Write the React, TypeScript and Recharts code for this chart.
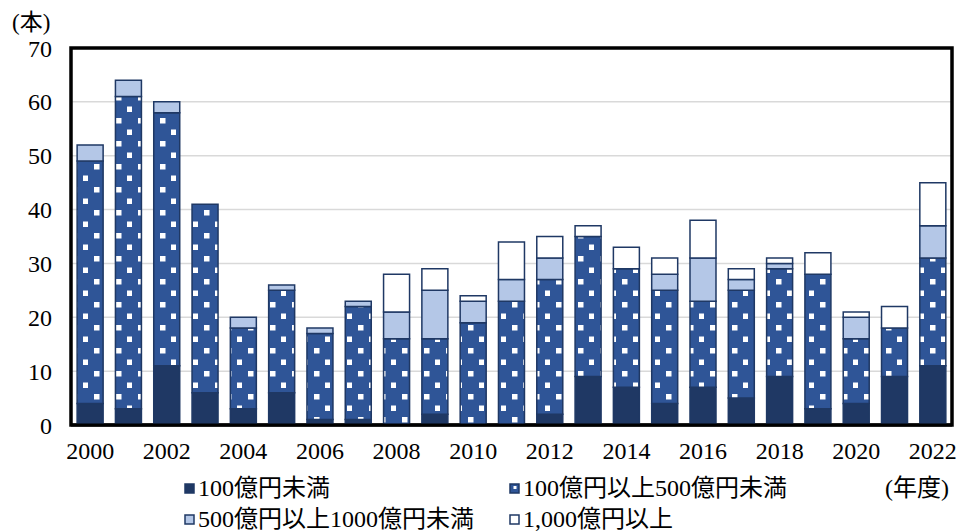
import { BarChart, Bar, XAxis, YAxis, CartesianGrid, ReferenceArea } from 'recharts';

const years = [
  '2000', '2001', '2002', '2003', '2004', '2005', '2006', '2007', '2008', '2009', '2010', '2011',
  '2012', '2013', '2014', '2015', '2016', '2017', '2018', '2019', '2020', '2021', '2022',
];
const under100 = [4, 3, 11, 6, 3, 6, 1, 1, 0, 2, 0, 0, 2, 9, 7, 4, 7, 5, 9, 3, 4, 9, 11];
const from100to500 = [45, 58, 47, 35, 15, 19, 16, 21, 16, 14, 19, 23, 25, 26, 22, 21, 16, 20, 20, 25, 12, 9, 20];
const from500to1000 = [3, 3, 2, 0, 2, 1, 1, 1, 5, 9, 4, 4, 4, 0, 0, 3, 8, 2, 1, 0, 4, 0, 6];
const over1000 = [0, 0, 0, 0, 0, 0, 0, 0, 7, 4, 1, 7, 4, 2, 4, 3, 7, 2, 1, 4, 1, 4, 8];
const yTicks = [0, 10, 20, 30, 40, 50, 60, 70];

const labels = {
  a: '100億円未満',
  b: '100億円以上500億円未満',
  c: '500億円以上1000億円未満',
  d: '1,000億円以上',
};

const data = years.map((year, i) => ({
  year,
  a: under100[i],
  b: from100to500[i],
  c: from500to1000[i],
  d: over1000[i],
}));

const FONT = '"Liberation Serif", "DejaVu Serif", "Noto Sans CJK JP", serif';
const NAVY = '#1F3864';
const MID = '#2F5597';
const LIGHT = '#B4C7E7';

function Swatch({ kind }: { kind: string }) {
  let fill = NAVY;
  if (kind === 'b') fill = MID;
  if (kind === 'c') fill = LIGHT;
  if (kind === 'd') fill = '#fff';
  return (
    <svg width={11} height={11} style={{ marginRight: 3 }}>
      <rect x={1} y={1} width={9} height={9} fill={fill} stroke={NAVY} strokeWidth={1.5} />
      {kind === 'b' && <rect x={4.5} y={3} width={3} height={3} fill="#fff" />}
    </svg>
  );
}

function LegendItem({ kind, left, top }: { kind: string; left: number; top: number }) {
  return (
    <div style={{ position: 'absolute', left, top, whiteSpace: 'nowrap', display: 'flex', alignItems: 'center', height: 28 }}>
      <Swatch kind={kind} />
      <span>{labels[kind as keyof typeof labels]}</span>
    </div>
  );
}

const textStyle = { fontFamily: FONT, fontSize: 24, lineHeight: '28px', color: '#000' };

export default function App() {
  return (
    <div style={{ position: 'absolute', left: 0, top: 0, width: 965, height: 532, background: '#fff', ...textStyle }}>
      <div style={{ position: 'absolute', left: 12, top: 9, fontSize: 23 }}>(本)</div>
      <BarChart
        width={965}
        height={532}
        data={data}
        margin={{ top: 48, right: 13, bottom: 77, left: 0 }}
        barCategoryGap="16%"
      >
        <defs>
          <pattern id="dots" patternUnits="userSpaceOnUse" width={22} height={23}>
            <rect x={0} y={0} width={22} height={23} fill={MID} />
            <rect x={6} y={3} width={5.5} height={5.5} fill="#fff" />
            <rect x={17} y={14.5} width={5.5} height={5.5} fill="#fff" />
          </pattern>
        </defs>
        <CartesianGrid vertical={false} stroke="#D9D9D9" strokeWidth={1.5} />
        <XAxis
          dataKey="year"
          height={30}
          interval={1}
          tickLine={false}
          axisLine={{ stroke: '#000', strokeWidth: 3 }}
          tickSize={0}
          tickMargin={17}
          tick={{ fontFamily: FONT, fontSize: 24, fill: '#000' }}
        />
        <YAxis
          width={71}
          domain={[0, 70]}
          ticks={yTicks}
          interval={0}
          axisLine={false}
          tickLine={false}
          tickSize={0}
          tickMargin={19}
          tick={{ fontFamily: FONT, fontSize: 24, fill: '#000' }}
        />
        <Bar dataKey="a" name={labels.a} stackId="s" fill={NAVY} stroke={NAVY} strokeWidth={1.5} isAnimationActive={false} />
        <Bar dataKey="b" name={labels.b} stackId="s" fill="url(#dots)" stroke={NAVY} strokeWidth={1.5} isAnimationActive={false} />
        <Bar dataKey="c" name={labels.c} stackId="s" fill={LIGHT} stroke={NAVY} strokeWidth={1.5} isAnimationActive={false} />
        <Bar dataKey="d" name={labels.d} stackId="s" fill="#fff" stroke={NAVY} strokeWidth={1.5} isAnimationActive={false} />
        <ReferenceArea y1={0} y2={70} fill="none" fillOpacity={0} stroke="#000" strokeWidth={3.5} ifOverflow="visible" />
      </BarChart>
      <LegendItem kind="a" left={184} top={474} />
      <LegendItem kind="b" left={509} top={474} />
      <div style={{ position: 'absolute', left: 885, top: 474 }}>(年度)</div>
      <LegendItem kind="c" left={184} top={505} />
      <LegendItem kind="d" left={509} top={505} />
    </div>
  );
}
